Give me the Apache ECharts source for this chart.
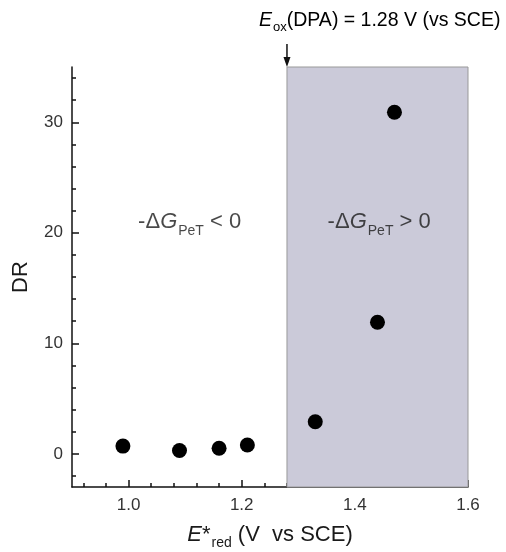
<!DOCTYPE html>
<html>
<head>
<meta charset="utf-8">
<script src="https://cdn.jsdelivr.net/npm/echarts@6/dist/echarts.min.js"></script>
<style>
  html, body { margin: 0; padding: 0; background: #fff; }
  #chart { width: 506px; height: 552px; }
</style>
</head>
<body>
<div id="chart"></div>
<script>
// measured points: excited-state reduction potential vs DR
const potentials = [0.99, 1.09, 1.16, 1.21, 1.33, 1.44, 1.47];
const drValues = [0.7, 0.3, 0.5, 0.8, 2.9, 11.9, 30.9];

// E_ox of DPA, start of the shaded region
const oxidationPotential = 1.28;
const xRange = [0.9, 1.6];
const yRange = [-3, 35];

const xMajorTicks = [1.0, 1.2, 1.4, 1.6];
const xMinorTicks = [0.92, 0.96, 1.04, 1.08, 1.12, 1.16, 1.24, 1.28, 1.32, 1.36, 1.44, 1.48, 1.52, 1.56];
const yMajorTicks = [0, 10, 20, 30];
const yMinorTicks = [-2, 2, 4, 6, 8, 12, 14, 16, 18, 22, 24, 26, 28, 32, 34];

// region labels: [x, y, sign]
const regionLabels = [[1.108, 21, '<'], [1.443, 21, '>']];

const FONT = '"Liberation Sans", Arial, sans-serif';
const TEXT = '#1a1a1a';

const richText = (size, drop) => ({
  m: { fontSize: size, fontFamily: FONT, color: TEXT },
  i: { fontSize: size, fontFamily: FONT, color: TEXT, fontStyle: 'italic' },
  s: { fontSize: Math.round(size * 0.65), fontFamily: FONT, color: TEXT, padding: [Math.round(size * drop), 0, 0, 1] }
});

const chart = echarts.init(document.getElementById('chart'));

const baseX = (show) => ({
  type: 'value', position: 'bottom', min: xRange[0], max: xRange[1],
  axisLine: { show: show, onZero: false, lineStyle: { color: '#111', width: 1.5 } },
  splitLine: { show: false }
});
const baseY = (show) => ({
  type: 'value', position: 'left', min: yRange[0], max: yRange[1],
  axisLine: { show: show, onZero: false, lineStyle: { color: '#111', width: 1.5 } },
  splitLine: { show: false }
});

const options = {
  animation: false,
  backgroundColor: '#fff',
  grid: { left: 72, right: 38, top: 67, bottom: 65, outerBoundsMode: 'none', containLabel: false },
  xAxis: [
    Object.assign(baseX(true), {
      name: '{i|E}{m|*}{s|red}{m| (V  vs SCE)}',
      nameLocation: 'middle',
      nameGap: 32,
      nameTextStyle: { rich: richText(22, 0.75) },
      axisTick: { inside: true, length: 7, customValues: xMajorTicks, lineStyle: { color: '#111', width: 1.5 } },
      axisLabel: { customValues: xMajorTicks, margin: 10, fontSize: 17, fontFamily: FONT, color: '#333',
        formatter: (v) => v.toFixed(1) }
    }),
    Object.assign(baseX(false), {
      axisTick: { inside: true, length: 4, customValues: xMinorTicks, lineStyle: { color: '#111', width: 1.5 } },
      axisLabel: { show: false }
    })
  ],
  yAxis: [
    Object.assign(baseY(true), {
      name: 'DR',
      nameLocation: 'middle',
      nameGap: 40,
      nameTextStyle: { fontSize: 22, fontFamily: FONT, color: TEXT },
      axisTick: { inside: true, length: 7, customValues: yMajorTicks, lineStyle: { color: '#111', width: 1.5 } },
      axisLabel: { customValues: yMajorTicks, margin: 9, fontSize: 17, fontFamily: FONT, color: '#333' }
    }),
    Object.assign(baseY(false), {
      axisTick: { inside: true, length: 4, customValues: yMinorTicks, lineStyle: { color: '#111', width: 1.5 } },
      axisLabel: { show: false }
    })
  ],
  series: [
    {
      name: 'DR',
      type: 'scatter',
      xAxisIndex: 0,
      yAxisIndex: 0,
      symbolSize: 15,
      itemStyle: { color: '#000', opacity: 1 },
      data: potentials.map((x, i) => [x, drValues[i]]),
      markArea: {
        silent: true,
        itemStyle: { color: '#cbcad9', borderColor: '#999', borderWidth: 1 },
        data: [[{ xAxis: oxidationPotential, yAxis: yRange[0] }, { xAxis: xRange[1], yAxis: yRange[1] }]]
      },
      z: 3
    },
    {
      name: 'regions',
      type: 'scatter',
      symbolSize: 0,
      silent: true,
      data: regionLabels.map((r) => ({ value: [r[0], r[1]], sign: r[2] })),
      label: {
        show: true,
        position: 'inside',
        formatter: (p) => '{m|-\u0394}{i|G}{s|PeT}{m| ' + p.data.sign + ' 0}',
        rich: richText(22, 0.8)
      },
      z: 4
    }
  ]
};

chart.setOption(options);

// E_ox annotation with arrow pointing at the start of the shaded region
const [ax, topY] = chart.convertToPixel({ gridIndex: 0 }, [oxidationPotential, yRange[1]]);
chart.setOption({
  graphic: [
    {
      type: 'text',
      left: 259,
      top: 11,
      style: {
        text: '{i|E}{s|ox}{m|(DPA) = 1.28 V (vs SCE)}',
        rich: richText(19.5, 0.6)
      }
    },
    {
      type: 'line',
      shape: { x1: ax, y1: 44, x2: ax, y2: topY - 4 },
      style: { stroke: '#111', lineWidth: 1.5 }
    },
    {
      type: 'polygon',
      shape: { points: [[ax - 3.5, topY - 10], [ax + 3.5, topY - 10], [ax, topY]] },
      style: { fill: '#111' }
    }
  ]
});

window.addEventListener('resize', () => chart.resize());
</script>
</body>
</html>
